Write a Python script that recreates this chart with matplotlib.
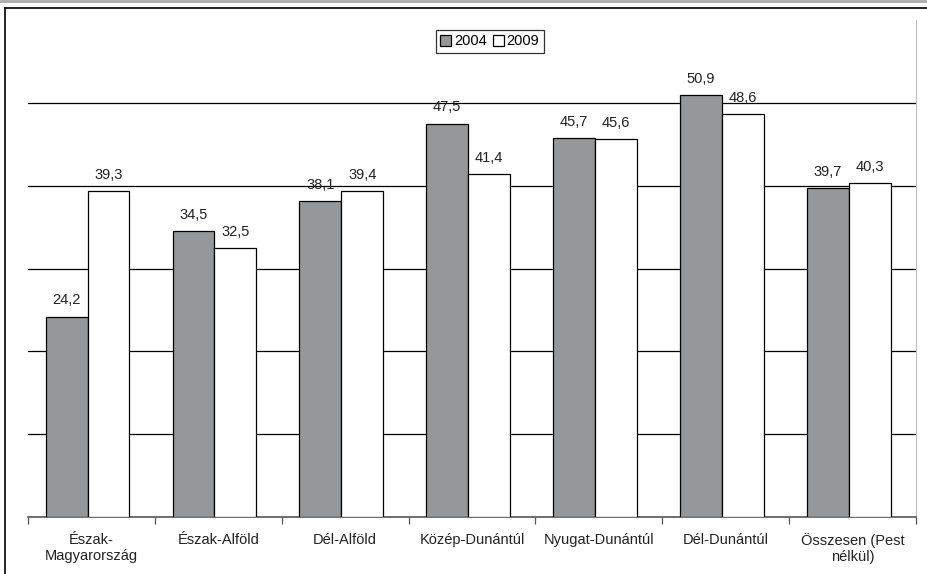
import numpy as np
import matplotlib.pyplot as plt
from matplotlib.lines import Line2D

plt.rcParams['font.family'] = ['Liberation Sans', 'DejaVu Sans']

regions = ['Észak-\nMagyarország', 'Észak-Alföld', 'Dél-Alföld', 'Közép-Dunántúl',
           'Nyugat-Dunántúl', 'Dél-Dunántúl', 'Összesen (Pest\nnélkül)']
val_2004 = [24.2, 34.5, 38.1, 47.5, 45.7, 50.9, 39.7]
val_2009 = [39.3, 32.5, 39.4, 41.4, 45.6, 48.6, 40.3]

fig = plt.figure(figsize=(9.28, 5.74), dpi=100)
ax = fig.add_axes([28/928, 1 - 517/574, (916-28)/928, (517-20)/574])

x = np.arange(len(regions))
w = 0.33
b1 = ax.bar(x - w/2 - 0.03, val_2004, w, color='#969799', edgecolor='black', linewidth=0.9,
            label='2004', zorder=3)
b2 = ax.bar(x + w/2 - 0.03, val_2009, w, color='white', edgecolor='black', linewidth=0.9,
            label='2009', zorder=3)

for bars, vals in ((b1, val_2004), (b2, val_2009)):
    for r, v in zip(bars, vals):
        ax.text(r.get_x() + r.get_width()/2, v + 1.1, f'{v:.1f}'.replace('.', ','),
                ha='center', va='bottom', fontsize=10.5, color='#222222')

ax.set_xlim(-0.5, len(regions) - 0.5)
ax.set_ylim(0, 60)
ax.set_yticks([10, 20, 30, 40, 50])
ax.yaxis.grid(True, color='black', linewidth=0.9)
ax.set_axisbelow(True)
ax.tick_params(axis='y', left=False, labelleft=False)

# category labels between boundary ticks
ax.set_xticks(np.arange(len(regions) + 1) - 0.5)
ax.set_xticklabels([])
ax.tick_params(axis='x', direction='out', length=5, width=0.9, color='#555555')
for i, name in enumerate(regions):
    ax.text(i, -1.9, name, ha='center', va='top', fontsize=10.5, color='#222222',
            linespacing=1.25)

for s in ('left', 'top'):
    ax.spines[s].set_visible(False)
ax.spines['right'].set_color('#bbbbbb')
ax.spines['bottom'].set_color('#555555')
ax.spines['bottom'].set_linewidth(1.2)

leg = ax.legend(loc='upper center', bbox_to_anchor=(0.52, 0.98), ncol=2, frameon=True,
                fancybox=False, edgecolor='black', fontsize=10.5, handlelength=0.75,
                handleheight=0.75, handletextpad=0.2, columnspacing=0.4,
                borderpad=0.3, borderaxespad=0)
leg.get_frame().set_linewidth(0.9)

# outer frame of the figure
fig.add_artist(Line2D([5/928, 1], [1 - 8/574, 1 - 8/574], color='black', linewidth=1.2))
fig.add_artist(Line2D([5/928, 5/928], [0, 1 - 8/574], color='black', linewidth=1.2))
fig.add_artist(Line2D([0, 1], [1 - 1/574, 1 - 1/574], color='#aaaaaa', linewidth=2))

fig.savefig('out.png', dpi=100)
